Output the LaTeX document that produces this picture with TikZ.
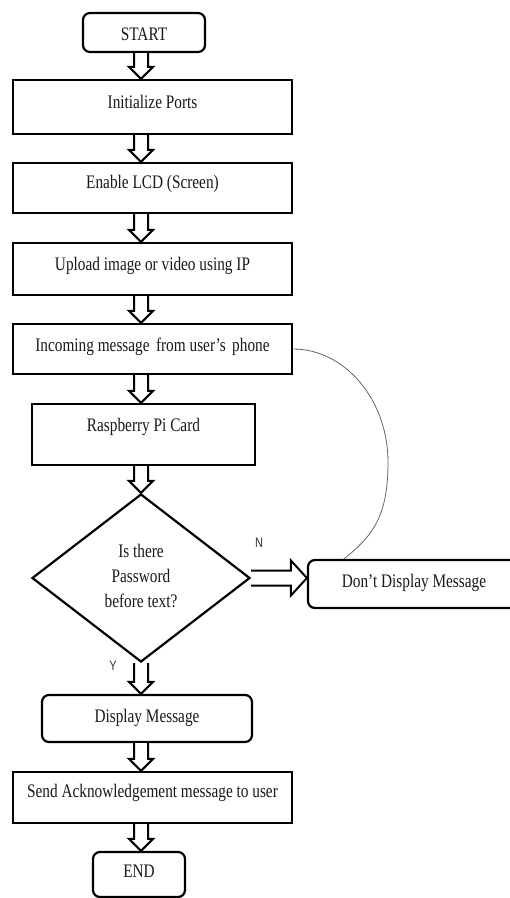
\documentclass[tikz,border=0pt]{standalone}
\usepackage{fontspec}
\usepackage{graphicx}
\setmainfont{Liberation Serif}
\newfontfamily\lblfont{Liberation Sans}
\usetikzlibrary{shapes.geometric,calc}
\newcommand\tx[2]{\raisebox{#1pt}[0pt][0pt]{\scalebox{1}[1.25]{#2}}}
\newcommand\varr[2]{\draw[blk] let \p1=(#1), \p2=(#2) in (\x1-7pt,\y1) -- (\x1-7pt,\y2+12pt) -- (\x1-12pt,\y2+12pt) -- (\x2,\y2) -- (\x1+12pt,\y2+12pt) -- (\x1+7pt,\y2+12pt) -- (\x1+7pt,\y1);}
\newcommand\harr[2]{\draw[blk] let \p1=(#1), \p2=(#2) in (\x1,\y1+7.5pt) -- (\x2-16pt,\y1+7.5pt) -- (\x2-16pt,\y1+17.5pt) -- (\x2,\y1) -- (\x2-16pt,\y1-17.5pt) -- (\x2-16pt,\y1-7.5pt) -- (\x1,\y1-7.5pt);}
\tikzset{
  box/.style={draw, line width=2.2pt, rectangle, inner sep=0pt, minimum width=279pt, text=black!90, font=\fontsize{15.3}{18}\selectfont},
  rbox/.style={box, rounded corners=7pt},
  blk/.style={draw, fill=white, line width=2pt, line join=miter},
  lbl/.style={inner sep=0pt, text=black!80, font=\lblfont\fontsize{11}{12}\selectfont},
  loopline/.style={draw=black!60, line width=0.8pt},
}
\begin{document}
\begin{tikzpicture}[x=1pt,y=1pt]
\useasboundingbox (0,0) rectangle (510,-898);
\fill[white] (0,0) rectangle (510,-898);
\coordinate (ax) at (141,0);
\node[rbox, minimum width=122pt, minimum height=39pt] (start) at (144,-32.5) {\tx{-7.5}{START}};
\node[box, minimum height=54pt] (init) at (152.5,-107) {\tx{-1}{Initialize Ports}};
\node[box, minimum height=50pt] (enable) at (152.5,-188) {\tx{0}{Enable LCD (Screen)}};
\node[box, minimum height=52pt] (upload) at (152.5,-269) {\tx{-1}{Upload image or video using IP}};
\node[box, minimum height=50pt] (inc) at (152.5,-349) {\tx{-2}{Incoming message\, from user's\, phone}};
\node[box, minimum width=223pt, minimum height=61pt] (rasp) at (143.5,-434.5) {\tx{3.5}{Raspberry Pi Card}};
\node[draw, diamond, line width=2.2pt, inner sep=0pt, minimum width=218pt, minimum height=168pt, align=center, text depth=5pt, text=black!90, font=\fontsize{15.3}{25}\selectfont] (dia) at (141,-578)
  {\scalebox{1}[1.25]{Is there}\\\scalebox{1}[1.25]{Password}\\\scalebox{1}[1.25]{before text?}};
\node[rbox, minimum width=212pt, minimum height=48pt] (dont) at (414,-584) {\tx{-3}{Don't Display Message}};
\node[rbox, minimum width=210pt, minimum height=47pt] (disp) at (147,-718.5) {\tx{-3.5}{Display Message}};
\node[box, minimum height=51pt] (send) at (152.5,-797.5) {\tx{0.5}{Send Acknowledgement message to user}};
\node[rbox, minimum width=92pt, minimum height=45pt] (endn) at (139,-874.5) {\tx{-2.5}{END}};
\node[lbl] (nl) at (259,-543) {\scalebox{1}[1.25]{N}};
\node[lbl] (yl) at (113,-666) {\scalebox{1}[1.25]{Y}};
\varr{start.south -| ax}{init.north -| ax}
\varr{init.south -| ax}{enable.north -| ax}
\varr{enable.south -| ax}{upload.north -| ax}
\varr{upload.south -| ax}{inc.north -| ax}
\varr{inc.south -| ax}{rasp.north -| ax}
\varr{rasp.south -| ax}{dia.north}
\varr{dia.south}{disp.north -| ax}
\varr{disp.south -| ax}{send.north -| ax}
\varr{send.south -| ax}{endn.north -| ax}
\harr{dia.east}{dont.west |- dia.east}
\coordinate (cend) at ($(dont.north west)+(37,0)$);
\draw[loopline] (inc.east) .. controls (345,-349) and (388,-400) .. (388,-462) .. controls (388,-515) and (374,-535) .. (cend);
\end{tikzpicture}
\end{document}
